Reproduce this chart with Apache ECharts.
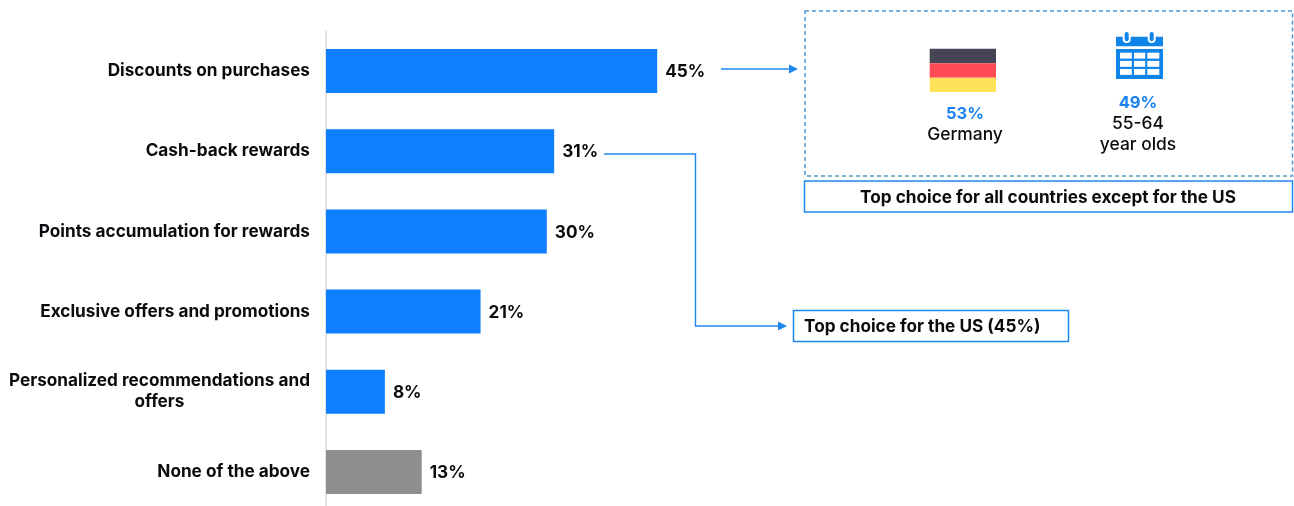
<!DOCTYPE html>
<html>
<head>
<meta charset="utf-8">
<style>html,body{margin:0;padding:0;background:#fff;overflow:hidden;height:506px}#chart{width:1294px;height:520px}</style>
<script src="https://cdn.jsdelivr.net/npm/echarts@6/dist/echarts.min.js"></script>
</head>
<body>
<div id="chart"></div>
<script>
const categories = [
  'Discounts on purchases',
  'Cash-back rewards',
  'Points accumulation for rewards',
  'Exclusive offers and promotions',
  'Personalized recommendations and\noffers',
  'None of the above'
];
const shares = [45, 31, 30, 21, 8, 13];
const neutralCategory = 'None of the above';

const BLUE = '#0d7fff', GREY = '#8f8f8f', INK = '#0b0b0f', LINE = '#1f86ee', DASH = '#4a98d8', ACCENT = '#1a82f0';
const ICON = '#0f85ea';
const FONT = 'Inter, "Noto Sans", sans-serif';

const chart = echarts.init(document.getElementById('chart'), null, { renderer: 'canvas' });

// Plain text helper for the callouts
const label = (x, y, text, weight, size, fill, align) => ({
  type: 'text', x, y, silent: true,
  style: { text, fill: fill || INK, font: `${weight} ${size}px ${FONT}`, align: align || 'center', verticalAlign: 'middle' }
});
const rect = (x, y, width, height, style, r) => ({ type: 'rect', silent: true, shape: { x, y, width, height, r: r || 0 }, style });
const outline = (x, y, width, height, stroke, extra) =>
  rect(x, y, width, height, Object.assign({ fill: 'none', stroke, lineWidth: 1.5 }, extra || {}));
const connector = points => ({ type: 'polyline', silent: true, shape: { points }, style: { fill: 'none', stroke: LINE, lineWidth: 1.4 } });
const arrowHead = (tipX, y) => ({
  type: 'polygon', silent: true,
  shape: { points: [[tipX, y], [tipX - 9, y - 4.5], [tipX - 9, y + 4.5]] },
  style: { fill: LINE }
});

// Calendar icon: header band, two rings in rounded notches, body, and three rows of three white cells
const calendarCells = [];
[[1120, 11.8], [1134, 11.2], [1147.3, 12]].forEach(([x, w]) => {
  [52.7, 60.9, 69].forEach(y => calendarCells.push(rect(x, y, w, 5.9, { fill: '#fff' })));
});
const calendar = [
  rect(1116, 36.7, 47, 9.5, { fill: ICON }),
  rect(1116, 49, 47, 30, { fill: ICON }),
  rect(1122.7, 36, 8, 7, { fill: '#fff' }, [0, 0, 4, 4]),
  rect(1147.7, 36, 8, 7, { fill: '#fff' }, [0, 0, 4, 4]),
  rect(1124.7, 32, 4, 9.2, { fill: ICON }, 2),
  rect(1149.7, 32, 4, 9.2, { fill: ICON }, 2)
].concat(calendarCells);

const flag = [
  rect(929.7, 48.7, 66.3, 14.6, { fill: '#464555' }),
  rect(929.7, 63.3, 66.3, 14.4, { fill: '#ff4b55' }),
  rect(929.7, 77.7, 66.3, 14.3, { fill: '#ffe15a' })
];

chart.setOption({
  animation: false,
  backgroundColor: '#fff',
  grid: { left: 326, top: 31, width: 736, height: 481, containLabel: false },
  xAxis: { type: 'value', min: 0, max: 100, show: false },
  yAxis: {
    type: 'category',
    inverse: true,
    data: categories,
    axisLine: { show: true, lineStyle: { color: '#d9d9d9', width: 1.5 } },
    axisTick: { show: false },
    axisLabel: {
      margin: 16,
      align: 'right',
      fontFamily: FONT,
      // Wrapped category names keep their continuation line centred under the first
      formatter: v => v.split('\n').map(line => `{t|${line}}`).join('\n'),
      rich: { t: { fontFamily: FONT, fontSize: 17.2, fontWeight: 700, color: INK, lineHeight: 21, align: 'center' } }
    }
  },
  series: [{
    type: 'bar',
    barWidth: 44,
    data: shares.map((value, i) => ({
      value,
      itemStyle: { color: categories[i] === neutralCategory ? GREY : BLUE }
    })),
    label: {
      show: true,
      position: 'right',
      distance: 8,
      offset: [0, 1],
      formatter: '{c}%',
      fontFamily: FONT,
      fontSize: 17.2,
      fontWeight: 700,
      color: INK
    }
  }],
  graphic: { elements: [
    connector([[721, 69], [790, 69]]),
    arrowHead(798, 69),
    connector([[604, 154], [695.5, 154], [695.5, 326], [779, 326]]),
    arrowHead(787, 326),

    outline(805, 11, 487.5, 165, DASH, { lineDash: [4, 3] }),
    outline(804.5, 181, 488, 31, LINE),
    outline(793.5, 310.5, 275, 31, LINE),

    ...flag,
    ...calendar,

    label(965, 114, '53%', 700, 16.5, ACCENT),
    label(965, 135, 'Germany', 500, 17.4),
    label(1138, 103, '49%', 700, 16.5, ACCENT),
    label(1138, 124, '55-64', 500, 17.4),
    label(1138, 145, 'year olds', 500, 17.4),
    label(1048, 198, 'Top choice for all countries except for the US', 700, 17.2),
    label(804, 327, 'Top choice for the US (45%)', 700, 17.2, INK, 'left')
  ] }
});
</script>
</body>
</html>
